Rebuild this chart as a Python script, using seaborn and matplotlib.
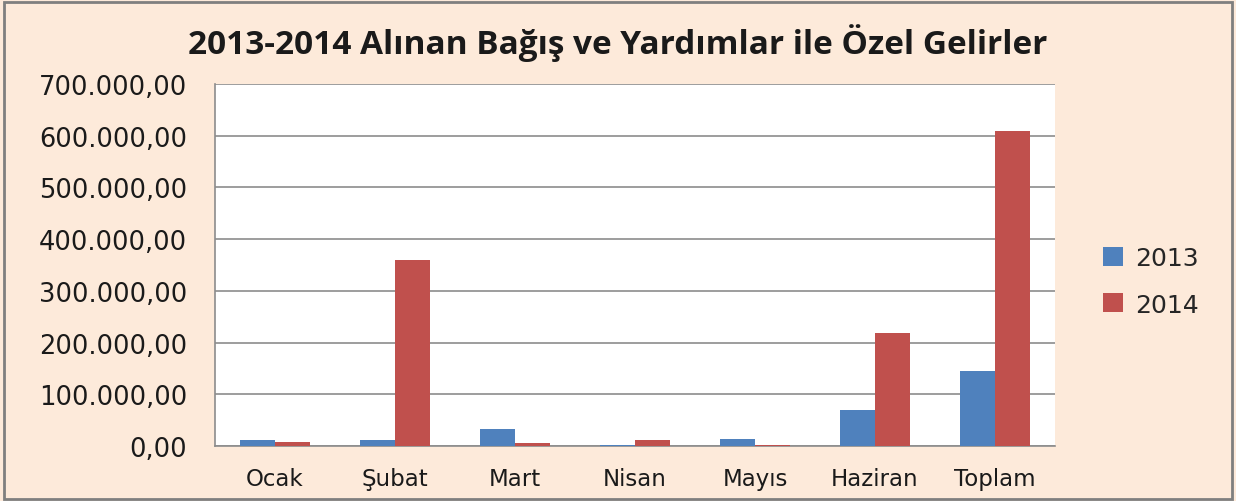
import numpy as np
import pandas as pd
import matplotlib
matplotlib.use("Agg")
import matplotlib.pyplot as plt
import seaborn as sns
from matplotlib.ticker import FuncFormatter, MultipleLocator
from matplotlib.patches import Rectangle

months = ["Ocak", "Şubat", "Mart", "Nisan", "Mayıs", "Haziran", "Toplam"]
values_2013 = [11000, 11000, 33000, 2500, 13500, 70000, 144500]
values_2014 = [7000, 360000, 5000, 11500, 2500, 218000, 610000]
years = ["2013", "2014"]

BG = "#FDEADA"
COLORS = ["#4F81BD", "#C0504D"]
GRID = "#8C8C8C"
TEXT = "#1A1A1A"

df = pd.DataFrame({
    "Ay": months * 2,
    "Yıl": [years[0]] * len(months) + [years[1]] * len(months),
    "Tutar": values_2013 + values_2014,
})

sns.set_style("white")
plt.rcParams["font.family"] = ["DejaVu Sans"]

fig = plt.figure(figsize=(12.36, 5.02), dpi=100)
fig.patch.set_facecolor(BG)
ax = fig.add_axes([0.174, 0.1096, 0.6796, 0.7211])
ax.set_facecolor("white")

sns.barplot(data=df, x="Ay", y="Tutar", hue="Yıl", palette=COLORS,
            width=0.58, gap=0, saturation=1, linewidth=0, ax=ax, zorder=3)

ax.set_ylim(0, 700000)
ax.yaxis.set_major_locator(MultipleLocator(100000))


def tr_fmt(v, pos):
    s = f"{v:,.2f}"
    return s.replace(",", "X").replace(".", ",").replace("X", ".")


ax.yaxis.set_major_formatter(FuncFormatter(tr_fmt))
ax.grid(axis="y", color=GRID, linewidth=1.2, zorder=0)
ax.set_axisbelow(True)
for side in ["top", "right"]:
    ax.spines[side].set_visible(False)
for side in ["left", "bottom"]:
    ax.spines[side].set_color(GRID)
    ax.spines[side].set_linewidth(1.2)

ax.tick_params(axis="y", labelsize=18.5, colors=TEXT, length=0, pad=20)
ax.tick_params(axis="x", labelsize=16.5, colors=TEXT, length=0, pad=15)
ax.set_xlabel("")
ax.set_ylabel("")

fig.text(0.5, 0.915, "2013-2014 Alınan Bağış ve Yardımlar ile Özel Gelirler",
         ha="center", va="center", fontsize=24, fontweight="bold",
         family=["Open Sans", "DejaVu Sans"], color=TEXT)

leg = ax.legend(title=None, loc="center left", bbox_to_anchor=(1.03, 0.455),
                frameon=False, fontsize=18, handlelength=0.8, handleheight=0.8,
                labelspacing=0.9, handletextpad=0.5)

fig.patches.append(Rectangle((0.003, 0.004), 0.994, 0.99, transform=fig.transFigure,
                             fill=False, edgecolor="#7F7F7F", linewidth=2))

fig.savefig("out.png", dpi=100, facecolor=fig.get_facecolor())
